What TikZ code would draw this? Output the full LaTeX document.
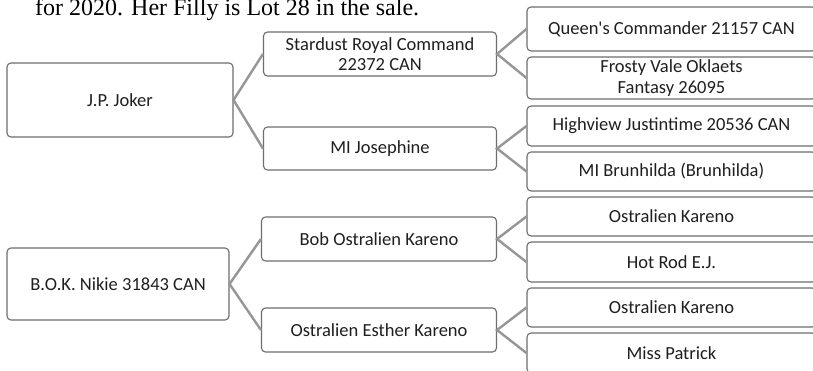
\documentclass[tikz,border=0pt]{standalone}
\usepackage{fontspec}
\setmainfont{Carlito}
\newfontfamily\boxfont{Carlito}
\newfontfamily\serifText{Liberation Serif}
\begin{document}
\begin{tikzpicture}[x=1bp,y=-1bp,
  pbox/.style={draw=boxgray, line width=1.1bp, rounded corners=4bp, fill=white,
    inner sep=0pt, align=center, text=black!88,
    font=\boxfont\fontsize{18.5bp}{20.5bp}\selectfont},
  conn/.style={draw=linegray, line width=2.4bp}]
\definecolor{boxgray}{RGB}{110,110,110}
\definecolor{linegray}{RGB}{150,150,150}
\useasboundingbox (0,0) rectangle (813,370);
\clip (0,0) rectangle (813,370);
\fill[white] (0,0) rectangle (813,370);
\node[anchor=base west, inner sep=0pt, font=\serifText\fontsize{24bp}{28bp}\selectfont] (cap) at (35,15) {for 2020. Her Filly is Lot 28 in the sale.};
% generation 1
\node[pbox, minimum width=226bp, minimum height=74bp] (jp) at (120,100) {J.P. Joker};
\node[pbox, minimum width=222bp, minimum height=72bp] (bok) at (118,284) {B.O.K. Nikie 31843 CAN};
% generation 2
\node[pbox, minimum width=233bp, minimum height=44bp] (sr) at (380,54) {Stardust Royal Command\\22372 CAN};
\node[pbox, minimum width=233bp, minimum height=43bp] (mj) at (380,148.5) {MI Josephine};
\node[pbox, minimum width=235bp, minimum height=44bp] (bo) at (379,239) {Bob Ostralien Kareno};
\node[pbox, minimum width=235bp, minimum height=44bp] (oe) at (379,330) {Ostralien Esther Kareno};
% generation 3
\node[pbox, minimum width=289bp, minimum height=44bp] (qc) at (671.5,29) {Queen's Commander 21157 CAN};
\node[pbox, minimum width=289bp, minimum height=42bp] (fv) at (671.5,78) {Frosty Vale Oklaets\\Fantasy 26095};
\node[pbox, minimum width=289bp, minimum height=40bp] (hj) at (671.5,126) {Highview Justintime 20536 CAN};
\node[pbox, minimum width=289bp, minimum height=39bp] (mb) at (671.5,171.5) {MI Brunhilda (Brunhilda)};
\node[pbox, minimum width=289bp, minimum height=39bp] (ok1) at (671.5,216.5) {Ostralien Kareno};
\node[pbox, minimum width=289bp, minimum height=40bp] (hr) at (671.5,262) {Hot Rod E.J.};
\node[pbox, minimum width=289bp, minimum height=39bp] (ok2) at (671.5,307.5) {Ostralien Kareno};
\node[pbox, minimum width=289bp, minimum height=40bp] (mp) at (671.5,353) {Miss Patrick};
% connectors
\draw[conn] (sr.west) -- (jp.east) -- (mj.west);
\draw[conn] (bo.west) -- (bok.east) -- (oe.west);
\draw[conn] (qc.west) -- (sr.east) -- (fv.west);
\draw[conn] (hj.west) -- (mj.east) -- (mb.west);
\draw[conn] (ok1.west) -- (bo.east) -- (hr.west);
\draw[conn] (ok2.west) -- (oe.east) -- (mp.west);
\end{tikzpicture}
\end{document}
